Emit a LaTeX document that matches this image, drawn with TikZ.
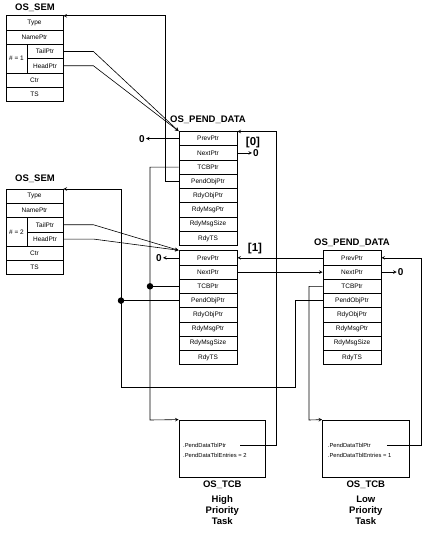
\documentclass[tikz,border=0pt]{standalone}
\usepackage{fontspec}
\setmainfont{Liberation Sans}

\begin{document}
\begin{tikzpicture}[x=1pt,y=-1pt]
\tikzstyle{field} = [rectangle, draw=black, line width=0.8pt, minimum width=58pt, minimum height=14.25pt, inner sep=0pt, text centered, font=\fontsize{6.5}{7}\selectfont]
\tikzstyle{semfield} = [field, minimum width=57pt, minimum height=14.3pt]
\tikzstyle{ptrfield} = [field, minimum width=36pt, minimum height=14.3pt]
\tikzstyle{cntfield} = [field, minimum width=21pt, minimum height=28.6pt]
\tikzstyle{TCB} = [rectangle, draw=black, line width=0.8pt, minimum width=86.5pt, minimum height=57pt]
\tikzstyle{title} = [font=\bfseries\fontsize{9.5}{11}\selectfont, inner sep=0pt]
\tikzstyle{nul} = [font=\bfseries\fontsize{10}{12}\selectfont, inner sep=1pt]
\tikzstyle{idx} = [font=\bfseries\fontsize{11.5}{12}\selectfont, inner sep=0pt]
\tikzstyle{member} = [anchor=west, inner sep=0pt, font=\fontsize{5.8}{7}\selectfont]
\tikzstyle{dot} = [circle, fill=black, inner sep=0pt, minimum size=6.5pt]

\tikzstyle{arrow} = [line width=0.6pt, ->, >=stealth]
\tikzstyle{line} = [line width=0.6pt, -]

    \useasboundingbox (0,0) rectangle (440,533);

    % first semaphore
    \node (semA) at (35,7.5) [title] {OS\_SEM};
    \node (semA-type) at (34.5,22.85) [semfield] {Type};
    \node (semA-name) at (34.5,37.15) [semfield] {NamePtr};
    \node (semA-cnt) at (16.5,58.6) [cntfield] {\# = 1};
    \node (semA-tail) at (45,51.45) [ptrfield] {TailPtr};
    \node (semA-head) at (45,65.75) [ptrfield] {HeadPtr};
    \node (semA-ctr) at (34.5,80.05) [semfield] {Ctr};
    \node (semA-ts) at (34.5,94.35) [semfield] {TS};

    % second semaphore
    \node (semB) at (35,179) [title] {OS\_SEM};
    \node (semB-type) at (34.5,196.15) [semfield] {Type};
    \node (semB-name) at (34.5,210.45) [semfield] {NamePtr};
    \node (semB-cnt) at (16.5,231.9) [cntfield] {\# = 2};
    \node (semB-tail) at (45,224.75) [ptrfield] {TailPtr};
    \node (semB-head) at (45,239.05) [ptrfield] {HeadPtr};
    \node (semB-ctr) at (34.5,253.35) [semfield] {Ctr};
    \node (semB-ts) at (34.5,267.65) [semfield] {TS};

    % pend data of the high priority task, [0]
    \node (pdA) at (208,119.5) [title] {OS\_PEND\_DATA};
    \node (pdA-prev) at (208,138.6) [field] {PrevPtr};
    \node (pdA-next) at (208,152.9) [field] {NextPtr};
    \node (pdA-tcb) at (208,167.1) [field] {TCBPtr};
    \node (pdA-obj) at (208,181.4) [field] {PendObjPtr};
    \node (pdA-rdyobj) at (208,195.6) [field] {RdyObjPtr};
    \node (pdA-rdymsg) at (208,209.9) [field] {RdyMsgPtr};
    \node (pdA-rdysize) at (208,224.1) [field] {RdyMsgSize};
    \node (pdA-rdyts) at (208,238.4) [field] {RdyTS};

    % pend data of the high priority task, [1]
    \node (pdB-prev) at (208,257.8) [field] {PrevPtr};
    \node (pdB-next) at (208,272.1) [field] {NextPtr};
    \node (pdB-tcb) at (208,286.3) [field] {TCBPtr};
    \node (pdB-obj) at (208,300.6) [field] {PendObjPtr};
    \node (pdB-rdyobj) at (208,314.8) [field] {RdyObjPtr};
    \node (pdB-rdymsg) at (208,329.1) [field] {RdyMsgPtr};
    \node (pdB-rdysize) at (208,343.3) [field] {RdyMsgSize};
    \node (pdB-rdyts) at (208,357.6) [field] {RdyTS};

    % pend data of the low priority task
    \node (pdC) at (352,242.7) [title] {OS\_PEND\_DATA};
    \node (pdC-prev) at (352,257.8) [field] {PrevPtr};
    \node (pdC-next) at (352,272.1) [field] {NextPtr};
    \node (pdC-tcb) at (352,286.3) [field] {TCBPtr};
    \node (pdC-obj) at (352,300.6) [field] {PendObjPtr};
    \node (pdC-rdyobj) at (352,314.8) [field] {RdyObjPtr};
    \node (pdC-rdymsg) at (352,329.1) [field] {RdyMsgPtr};
    \node (pdC-rdysize) at (352,343.3) [field] {RdyMsgSize};
    \node (pdC-rdyts) at (352,357.6) [field] {RdyTS};

    % task control blocks
    \node (tcbA) at (222.3,448.5) [TCB] {};
    \node (ptrA) at (183,445) [member] {.PendDataTblPtr};
    \node (entA) at (183,455.5) [member] {.PendDataTblEntries = 2};
    \node (tcbAname) at (222.3,485) [title] {OS\_TCB};
    \node (taskA) at (222.3,510.5) [title, align=center] {High\\Priority\\Task};

    \node (tcbB) at (365.8,448.5) [TCB] {};
    \node (ptrB) at (327.7,445) [member] {.PendDataTblPtr};
    \node (entB) at (327.7,455.5) [member] {.PendDataTblEntries = 1};
    \node (tcbBname) at (365.8,485) [title] {OS\_TCB};
    \node (taskB) at (365.8,510.5) [title, align=center] {Low\\Priority\\Task};

    % nulls and indices
    \node (zeroA) at (142,138.6) [nul] {0};
    \node (zeroB) at (256,152.9) [nul] {0};
    \node (zeroC) at (159,257.8) [nul] {0};
    \node (zeroD) at (400.7,272.1) [nul] {0};
    \node (idxA) at (253,143) [idx] {[0]};
    \node (idxB) at (255,249) [idx] {[1]};

    \coordinate (semAback) at (165,15.7);
    \coordinate (semBback) at (121,189);
    \coordinate (objC) at (295,387);
    \coordinate (tcbAin) at (150,420);
    \coordinate (tcbBin) at (309,420);
    \coordinate (tblA) at (276,131.5);
    \coordinate (tblB) at (421.7,257.8);

    \draw [arrow] (semA-tail.east) -- ++(30,0) -- (pdA-prev.north west);
    \draw [arrow] (semA-head.east) -- ++(30,0) -- (pdA-prev.north west);
    \draw [arrow] (semB-tail.east) -- ++(30,0) -- (pdB-prev.north west);
    \draw [arrow] (semB-head.east) -- ++(30,0) -- (pdB-prev.north west);

    \draw [arrow] (pdA-prev.west) -- (zeroA);
    \draw [arrow] (pdA-next.east) -- (zeroB);
    \draw [arrow] (pdB-prev.west) -- (zeroC);
    \draw [arrow] (pdC-next.east) -- (zeroD);

    \draw [arrow] (pdA-obj.west) -| (semAback) -- (semAback -| semA-type.east);
    \draw [arrow] (pdA-tcb.west) -| (tcbAin) -- (tcbA.north west);
    \draw [arrow] (pdC-obj.west) -| (objC) -| (semBback) -- (semBback -| semB-type.east);
    \draw [arrow] (pdC-tcb.west) -| (tcbBin) -- (tcbB.north west);

    \draw [arrow] (pdC-prev.west) -- (pdB-prev.east);
    \draw [arrow] (pdB-next.east) -- (pdC-next.west);

    \draw [arrow] ([xshift=14pt]ptrA.east) -| (tblA) -- (tblA -| pdA-prev.east);
    \draw [arrow] ([xshift=16pt]ptrB.east) -| (tblB) -- (tblB -| pdC-prev.east);

    \node (dotA) at (150,286.3) [dot] {};
    \node (dotB) at (121,300.6) [dot] {};
    \draw [line] (dotA) -- (pdB-tcb.west);
    \draw [line] (dotB) -- (pdB-obj.west);
\end{tikzpicture}
\end{document}
